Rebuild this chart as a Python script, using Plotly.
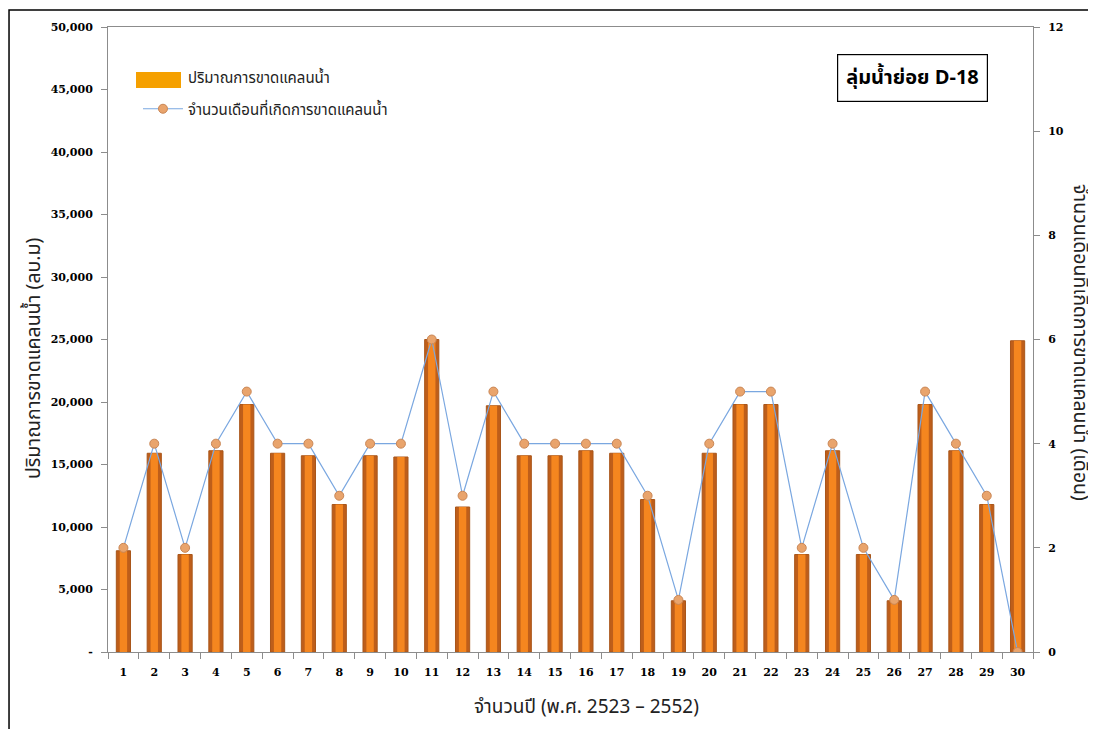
import plotly.graph_objects as go

years = [str(i) for i in range(1, 31)]
shortage_volume = [8100, 15900, 7800, 16100, 19800, 15900, 15700, 11800, 15700, 15600,
                   25000, 11600, 19700, 15700, 15700, 16100, 15900, 12200, 4100, 15900,
                   19800, 19800, 7800, 16100, 7800, 4100, 19800, 16100, 11800, 24900]
shortage_months = [2, 4, 2, 4, 5, 4, 4, 3, 4, 4, 6, 3, 5, 4, 4, 4, 4, 3, 1, 4,
                   5, 5, 2, 4, 2, 1, 5, 4, 3, 0]
left_ticks = [0, 5000, 10000, 15000, 20000, 25000, 30000, 35000, 40000, 45000, 50000]
left_ticktext = ["-", "5,000", "10,000", "15,000", "20,000", "25,000", "30,000",
                 "35,000", "40,000", "45,000", "50,000"]
right_ticks = [0, 2, 4, 6, 8, 10, 12]

THAI = "Noto Sans Thai, Tahoma, DejaVu Sans, sans-serif"
TICKF = dict(family="DejaVu Serif, Georgia, serif", size=11, color="black", weight="bold")

fig = go.Figure()
fig.add_trace(go.Bar(x=years, y=shortage_volume, name="ปริมาณการขาดแคลนน้ำ",
                     marker=dict(color="#BE5E1A", line=dict(color="#A9561A", width=1)),
                     width=0.46, showlegend=False, hoverinfo="skip"))
fig.add_trace(go.Bar(x=years, y=shortage_volume, width=0.24, showlegend=False,
                     marker=dict(color="#F5861F", line=dict(width=0)), hoverinfo="skip"))
# legend entry for the bars (symbol drawn as a wide swatch below)
fig.add_trace(go.Bar(x=[years[0]], y=[None], name="ปริมาณการขาดแคลนน้ำ",
                     marker=dict(color="rgba(0,0,0,0)", line=dict(width=0, color="rgba(0,0,0,0)")),
                     showlegend=True, legendgroup="a"))
fig.add_trace(go.Scatter(x=years, y=shortage_months, yaxis="y2", mode="lines+markers",
                         name="จำนวนเดือนที่เกิดการขาดแคลนน้ำ", legendgroup="b",
                         line=dict(color="#7AA7E0", width=1.2),
                         marker=dict(size=9, color="#E9A46C", line=dict(color="#C98655", width=1))))

fig.update_layout(
    width=1088, height=721,
    margin=dict(l=100, r=63, t=19, b=77, pad=0),
    paper_bgcolor="white", plot_bgcolor="white",
    barmode="overlay",
    showlegend=True,
    legend=dict(x=0.0324, y=0.9456, xanchor="left", yanchor="top", traceorder="grouped",
                bgcolor="rgba(0,0,0,0)", font=dict(family=THAI, size=15, color="#222"),
                tracegroupgap=9, itemwidth=40),
    xaxis=dict(type="category", categoryorder="array", categoryarray=years,
               range=[-0.5, 29.5], automargin=False,
               showline=True, linecolor="#8c8c8c", linewidth=1, mirror=True,
               ticks="outside", tickson="boundaries", ticklen=6, tickcolor="#8c8c8c",
               tickfont=TICKF, showgrid=False, ticklabelstandoff=10),
    yaxis=dict(range=[0, 50000], tickvals=left_ticks, ticktext=left_ticktext, automargin=False,
               showline=True, linecolor="#8c8c8c", linewidth=1, mirror=True,
               ticks="outside", ticklen=6, tickcolor="#8c8c8c", showgrid=False,
               tickfont=TICKF, ticklabelstandoff=6, zeroline=False),
    yaxis2=dict(range=[0, 12], tickvals=right_ticks, overlaying="y", side="right",
                automargin=False,
                showline=True, linecolor="#8c8c8c", linewidth=1,
                ticks="outside", ticklen=6, tickcolor="#8c8c8c", showgrid=False,
                tickfont=TICKF, ticklabelstandoff=6, zeroline=False),
    shapes=[dict(type="rect", xref="paper", yref="paper",
                 x0=-0.107, x1=1.0638, y0=-0.16, y1=1.0272,
                 line=dict(color="black", width=1.5), fillcolor="rgba(0,0,0,0)", layer="below"),
            dict(type="rect", xref="paper", yref="paper",
                 x0=(136 - 108) / 925, x1=(181 - 108) / 925,
                 y0=(652 - 88) / 625, y1=(652 - 72) / 625,
                 line=dict(width=0), fillcolor="#F5A000", layer="above")],
    annotations=[
        dict(text="<b>ลุ่มน้ำย่อย D-18</b>", xref="paper", yref="paper",
             x=(912 - 108) / 925, y=(652 - 78) / 625, xanchor="center", yanchor="middle",
             showarrow=False,
             font=dict(family=THAI, size=20, color="black"),
             bordercolor="black", borderwidth=1.2, borderpad=8, bgcolor="white"),
        dict(text="ปริมาณการขาดแคลนน้ำ (ลบ.ม)", xref="paper", yref="paper",
             x=(34 - 108) / 925, y=(652 - 358) / 625, textangle=-90, showarrow=False,
             xanchor="center", yanchor="middle",
             font=dict(family=THAI, size=19.5, color="#222")),
        dict(text="จำนวนเดือนที่เกิดการขาดแคลนน้ำ (เดือน)", xref="paper", yref="paper",
             x=(1080 - 108) / 925, y=(652 - 342) / 625, textangle=90, showarrow=False,
             xanchor="center", yanchor="middle",
             font=dict(family=THAI, size=19.5, color="#222")),
        dict(text="จำนวนปี (พ.ศ. 2523 – 2552)", xref="paper", yref="paper",
             x=(586 - 108) / 925, y=(652 - 708) / 625, showarrow=False,
             xanchor="center", yanchor="middle",
             font=dict(family=THAI, size=19, color="#222")),
    ],
)

fig.write_html("out.html")
